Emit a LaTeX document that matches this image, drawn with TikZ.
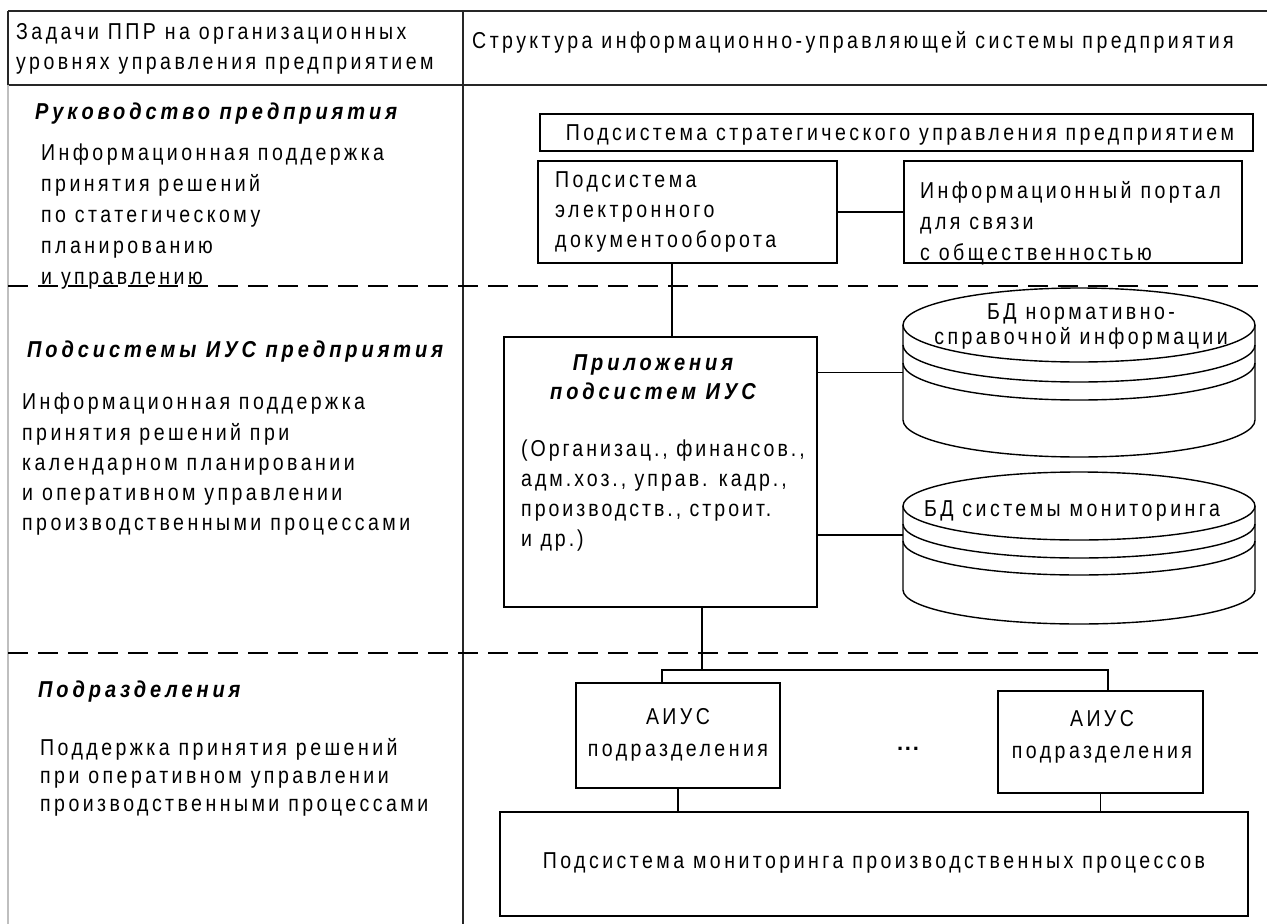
\documentclass[tikz,border=0pt]{standalone}
\usepackage{fontspec}
\setmainfont{Liberation Sans}[LetterSpace=15, FakeStretch=0.85]
\newfontfamily\hdfont{Liberation Sans}[LetterSpace=17, FakeStretch=0.87]
\newfontfamily\dotfont{Liberation Sans}[LetterSpace=8]
\begin{document}
\begin{tikzpicture}[x=1pt,y=-1pt,
  frame/.style={line width=1.6pt, black!85},
  sepline/.style={line width=2.8pt, dash pattern=on 20pt off 10pt},
  box/.style={draw, line width=1.6pt, inner sep=0, rectangle},
  conn/.style={line width=1.4pt},
  cyl/.style={line width=1.4pt},
  txt/.style={inner sep=0, align=left, anchor=north west, font=\fontsize{23}{30}\selectfont},
  ctxt/.style={txt, align=center, anchor=north},
  hd/.style={txt, font=\hdfont\fontsize{23}{30}\bfseries\itshape\selectfont}
]
\useasboundingbox (0,0) rectangle (1267,924);

% frame
\draw[frame] (8,11) -- (1267,11);
\draw[frame] (8,85) -- (1267,85);
\draw[frame] (8,11) -- (8,85);
\draw[line width=1.2pt, black!25] (8,85) -- (8,924);
\draw[frame] (463,11) -- (463,924);
\draw[sepline] (8,286) -- (1267,286);
\draw[sepline] (8,653) -- (1267,653);

% header texts
\node[txt] (h0) at (16,23) {Задачи ППР на организационных\\уровнях управления предприятием};
\node[txt] (h1) at (472,31) {Структура информационно-управляющей системы предприятия};

% left column
\node[hd] (l1h) at (35,103) {Руководство предприятия};
\node[txt, font=\fontsize{23}{31}\selectfont] (l1t) at (41,144) {Информационная поддержка\\принятия решений\\по статегическому\\планированию\\и управлению};
\node[hd] (l2h) at (27,341) {Подсистемы ИУС предприятия};
\node[txt, font=\fontsize{23}{30.25}\selectfont] (l2t) at (22,393) {Информационная поддержка\\принятия решений при\\календарном планировании\\и оперативном управлении\\производственными процессами};
\node[hd] (l3h) at (38,681) {Подразделения};
\node[txt, font=\fontsize{23}{28}\selectfont] (l3t) at (40,738) {Поддержка принятия решений\\при оперативном управлении\\производственными процессами};

% top section boxes
\node[box, minimum width=713pt, minimum height=37pt] (strat) at (896.5,132.5) {};
\node[ctxt] (stratt) at (900,124) {Подсистема стратегического управления предприятием};
\node[box, minimum width=299pt, minimum height=102pt] (doc) at (687.5,212) {};
\node[txt] (doct) at (555,171) {Подсистема\\электронного\\документооборота};
\node[box, minimum width=338pt, minimum height=102pt] (portal) at (1073,212) {};
\node[txt, font=\fontsize{23}{31}\selectfont] (portalt) at (920,181) {Информационный портал\\для связи\\с общественностью};
\draw[conn] (doc.east) -- (portal.west);

% applications box
\node[box, minimum width=313pt, minimum height=270pt] (app) at (660.5,472) {};
\node[ctxt, font=\hdfont\fontsize{23}{29}\bfseries\itshape\selectfont] (appt) at (653,354) {Приложения\\подсистем ИУС};
\node[txt, font=\addfontfeature{LetterSpace=13}\fontsize{23}{30}\selectfont] (appb) at (521,440) {(Организац., финансов.,\\адм.хоз., управ. кадр.,\\производств., строит.\\и др.)};
\coordinate (k1) at (672,0);
\draw[conn] (doc.south -| k1) -- (app.north -| k1);

% databases
\node[inner sep=0, minimum width=352pt, minimum height=95pt] (db1) at (1079,372.5) {};
\draw[cyl] (1079,325) ellipse [x radius=176pt, y radius=37pt];
\draw[cyl] (903,345) arc [start angle=180, end angle=360, x radius=176pt, y radius=37pt];
\draw[cyl] (903,363) arc [start angle=180, end angle=360, x radius=176pt, y radius=37pt];
\draw[cyl] (903,325) -- (903,420) arc [start angle=180, end angle=360, x radius=176pt, y radius=37pt] -- (1255,325);
\node[ctxt, font=\fontsize{23}{25}\selectfont] (db1t) at (1081,303) {БД нормативно-\\справочной информации};

\node[inner sep=0, minimum width=352pt, minimum height=58pt] (db2) at (1079,535) {};
\draw[cyl] (1079,506) ellipse [x radius=176pt, y radius=34pt];
\draw[cyl] (903,524) arc [start angle=180, end angle=360, x radius=176pt, y radius=34pt];
\draw[cyl] (903,541) arc [start angle=180, end angle=360, x radius=176pt, y radius=34pt];
\draw[cyl] (903,506) -- (903,590) arc [start angle=180, end angle=360, x radius=176pt, y radius=34pt] -- (1255,506);
\node[ctxt] (db2t) at (1072,500) {БД системы мониторинга};

\draw[conn] (app.east |- db1.west) -- (db1.west);
\draw[conn] (app.east |- db2.west) -- (db2.west);

% bottom section
\node[box, minimum width=204pt, minimum height=105pt] (aius1) at (678,735.5) {};
\node[ctxt, font=\fontsize{23}{32}\selectfont] (aius1t) at (678,708) {АИУС\\подразделения};
\node[box, minimum width=205pt, minimum height=102pt] (aius2) at (1100.5,742) {};
\node[ctxt, font=\fontsize{23}{32}\selectfont] (aius2t) at (1102,710) {АИУС\\подразделения};
\node[inner sep=0, font=\dotfont\bfseries\fontsize{22}{24}\selectfont] (dots) at (908,749) {...};
\node[box, minimum width=748pt, minimum height=104pt] (mon) at (874,864) {};
\node[ctxt] (mont) at (874,852) {Подсистема мониторинга производственных процессов};

\coordinate (k2) at (702,670);
\coordinate (bl) at (662,670);
\coordinate (br) at (1108,670);
\draw[conn] (app.south -| k2) -- (k2);
\draw[conn] (aius1.north -| bl) -- (bl) -- (br) -- (aius2.north -| br);
\draw[conn] (aius1.south) -- (aius1.south |- mon.north);
\draw[conn] (aius2.south) -- (aius2.south |- mon.north);
\end{tikzpicture}
\end{document}
